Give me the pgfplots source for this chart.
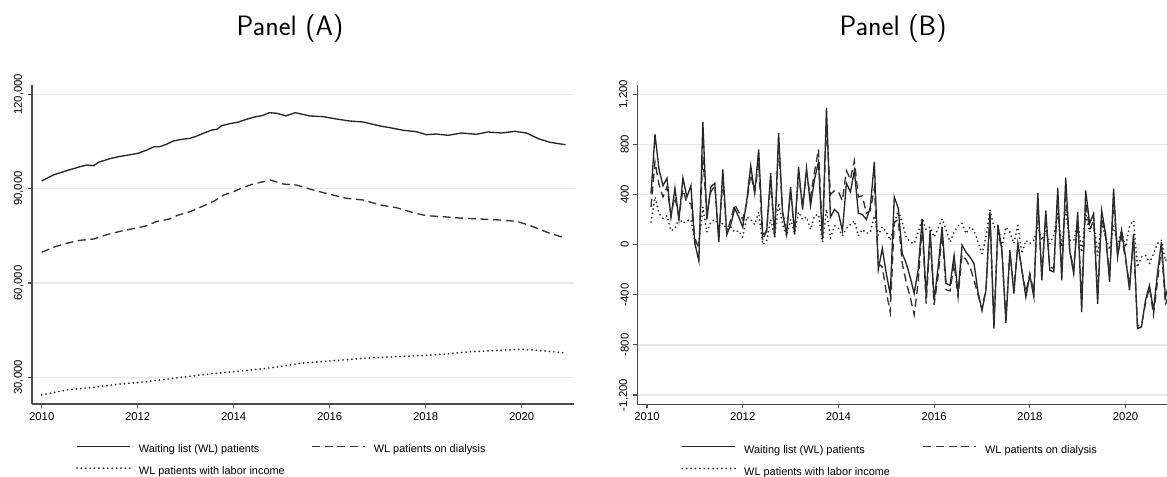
\documentclass[border=0pt]{standalone}
\usepackage{pgfplots}
\usepackage{pgfplotstable}
\pgfplotsset{compat=1.18}
\usepackage{fontspec}
\setmainfont{Liberation Sans}

\pgfplotstableread{
m v
0 92430
2.9 94337
5.4 95387
7.4 96150
9.6 96977
11.3 97517
13.0 97295
14.2 98376
17.0 99520
19.2 100157
22.1 100793
24.1 101238
26.3 102287
28.1 103337
29.5 103337
31.2 104100
32.9 105150
35.0 105690
37.1 106010
38.8 106740
40.4 107590
42.5 108640
43.8 108870
45.0 110015
47.0 110650
49.2 111190
51.2 112050
52.9 112685
55.4 113320
56.9 114150
58.8 113960
61.1 113150
63.4 114150
67.1 113100
70.4 112880
73.7 112140
77.0 111510
80.4 111190
84.6 109920
87.1 109380
90.4 108550
93.7 108110
96.2 107150
98.6 107370
101.6 106960
105.0 107690
108.7 107280
111.6 108010
115.0 107690
118.3 108230
121.2 107690
124.2 105880
127.1 104730
130.3 104100
131 104000
}\tabAs

\pgfplotstableread{
m v
0 69756
2.9 71346
6.2 72618
9.6 73570
13.0 73985
16.2 75350
19.6 76430
24.1 77580
26.3 78215
28.8 79600
31.7 80250
34.2 81620
37.1 82670
40.4 84480
43.3 86180
45.5 87980
48.0 89020
50.4 90420
52.9 91470
55.4 92210
57.1 92750
60.4 91470
63.7 91150
67.9 89560
72.0 88200
76.2 86930
80.4 86390
84.6 84800
88.7 83940
92.9 82350
96.2 81400
100.4 81080
104.5 80660
109.6 80340
114.6 80020
118.8 79600
122.2 78220
126.4 76110
130.3 74530
131 74300
}\tabAd

\pgfplotstableread{
m v
0 24377
6.2 25970
13.0 26830
19.6 27870
26.3 28605
32.9 29670
39.6 30730
48.0 31790
56.3 32850
59.5 33380
64.6 34450
72.0 35190
80.4 36040
88.7 36560
96.2 36990
101.2 37410
106.2 38050
112.9 38470
119.5 38900
122.9 38690
130.3 37830
131 37800
}\tabAl

\pgfplotstableread{
m s d l
1 407 300 180
2 880 660 380
3 600 480 250
4 470 380 210
5 530 460 230
6 215 240 110
7 450 380 130
8 200 220 210
9 530 440 170
10 380 330 190
11 470 330 200
12 10 50 20
13 -130 -30 10
14 980 700 300
15 200 250 100
16 460 420 180
17 490 470 200
18 20 60 150
19 600 520 170
20 80 100 120
21 160 200 140
22 290 320 100
23 220 260 110
24 140 200 60
25 350 330 220
26 630 560 200
27 410 420 160
28 760 650 260
29 80 30 0
30 100 120 30
31 570 500 200
32 60 80 60
33 890 800 330
34 250 260 160
35 80 110 70
36 460 420 200
37 80 110 90
38 620 560 260
39 280 310 200
40 610 570 220
41 310 380 120
42 520 580 230
43 660 760 240
44 40 60 20
45 1090 950 280
46 220 400 50
47 280 430 150
48 250 420 130
49 110 350 70
50 490 590 130
51 420 520 160
52 590 670 190
53 250 380 70
54 240 390 120
55 200 250 90
56 300 270 100
57 660 450 230
58 -200 -150 74
59 -30 -180 140
60 -230 -380 100
61 -400 -540 34
62 380 180 160
63 290 200 274
64 -70 -150 180
65 -150 -300 60
66 -260 -420 20
67 -390 -560 8
68 -200 -300 100
69 205 150 206
70 -420 -470 120
71 115 60 140
72 -445 -480 60
73 -180 -250 130
74 140 80 206
75 -310 -360 120
76 -325 -370 20
77 -85 -150 100
78 -385 -420 150
79 -5 -80 170
80 -60 -120 88
81 -100 -180 140
82 -150 -280 114
83 -380 -400 20
84 -525 -520 -72
85 -365 -350 60
86 260 220 273
87 -670 -620 140
88 154 120 154
89 -45 -60 -20
90 -625 -580 140
91 -45 -60 100
92 -390 -360 8
93 8 0 154
94 -205 -200 -72
95 -418 -380 34
96 -245 -230 8
97 -418 -380 34
98 411 330 140
99 -285 -230 34
100 273 220 114
101 -205 -180 8
102 -218 -190 74
103 454 360 247
104 -285 -220 -18
105 534 430 273
106 -50 -40 34
107 -232 -200 30
108 260 200 190
109 -538 -420 -60
110 433 340 250
111 167 120 100
112 247 190 200
113 -472 -400 -90
114 273 220 180
115 88 60 60
116 -298 -250 -40
117 447 360 150
118 -98 -80 0
119 114 60 110
120 -98 -120 -20
121 -365 -320 150
122 88 40 193
123 -670 -650 -180
124 -657 -640 -98
125 -445 -470 -85
126 -325 -340 -150
127 -525 -560 -72
128 -232 -300 8
129 21 -20 34
130 -418 -480 -130
131 -300 -380 -60
}\tabB

\begin{document}
\begin{tikzpicture}
\path[use as bounding box] (0,0) rectangle (875.25pt,-357.75pt);
\pgfplotsset{
 stata/.style={
  scale only axis,
  axis x line*=bottom, axis y line*=left,
  axis line style={black!70, line width=0.8pt},
  every tick/.style={black!70, line width=0.8pt},
  major tick length=3pt, tick align=outside,
  ymajorgrids, grid style={black!9, line width=1pt},
  scaled y ticks=false,
  xtick={0,24,48,72,96,120},
  xticklabels={2010,2012,2014,2016,2018,2020},
  ticklabel style={font=\fontsize{8.5}{10}\selectfont, text=black},
  yticklabel style={rotate=90, anchor=south},
  clip=true,
  legend columns=2,
  legend cell align=left,
  legend style={draw=none, fill=none, inner sep=0pt, outer sep=0pt,
    font=\fontsize{8.2}{9.8}\selectfont,
    nodes={inner sep=0pt, outer sep=0pt, text height=6pt, text depth=1.6pt},
    row sep=8.9pt,
    /tikz/every odd column/.append style={column sep=6pt},
    anchor=north west},
  legend image code/.code={\draw[##1] (0pt,2.9pt) -- (39.75pt,2.9pt);},
 },
 sol/.style={black!85, line width=1pt},
 das/.style={black!80, line width=1pt, dash pattern=on 6pt off 3.5pt},
 dott/.style={black!85, line width=1.45pt, line cap=round, dash pattern=on 0pt off 3.3pt},
}
\node[anchor=base, font=\sffamily\fontsize{21}{25}\selectfont] at (217.5pt,-27pt) {Panel (A)};
\node[anchor=base, font=\sffamily\fontsize{21}{25}\selectfont] at (669.75pt,-27pt) {Panel (B)};

\begin{axis}[stata, at={(24pt,-303pt)}, anchor=south west,
  width=406.5pt, height=239.25pt,
  xmin=-2.43, xmax=133.1, ymin=21509, ymax=122958,
  ytick={30000,60000,90000,120000},
  yticklabels={{30,000},{60,000},{90,000},{120,000}},
  legend style={at={(0.0812,-0.1285)},
    /tikz/every even column/.append style={column sep=20pt}}]
\addplot[sol] table[x=m,y=v] {\tabAs};
\addplot[das] table[x=m,y=v] {\tabAd};
\addplot[dott] table[x=m,y=v] {\tabAl};
\legend{Waiting list (WL) patients, WL patients on dialysis, WL patients with labor income}
\end{axis}

\begin{axis}[stata, at={(478pt,-303.2pt)}, anchor=south west,
  width=397.25pt, height=239.5pt,
  xmin=-2.43, xmax=130.4, ymin=-1274, ymax=1274,
  ytick={-1200,-800,-400,0,400,800,1200},
  yticklabels={{-1,200},{-800},{-400},{0},{400},{800},{1,200}},
  legend style={at={(0.0830,-0.1285)},
    /tikz/every even column/.append style={column sep=24.5pt}}]
\addplot[sol] table[x=m,y=s] {\tabB};
\addplot[das] table[x=m,y=d] {\tabB};
\addplot[dott] table[x=m,y=l] {\tabB};
\legend{Waiting list (WL) patients, WL patients on dialysis, WL patients with labor income}
\end{axis}
\end{tikzpicture}
\end{document}
